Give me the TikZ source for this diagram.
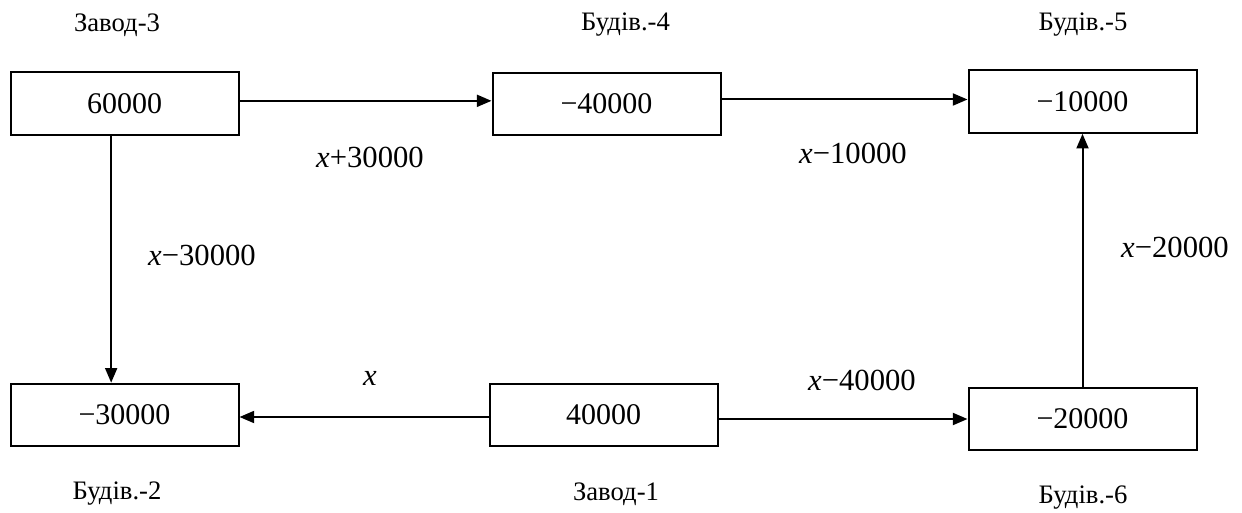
\documentclass[tikz,border=0pt]{standalone}
\usepackage{fontspec}
\setmainfont{Liberation Serif}
\usetikzlibrary{arrows.meta}
\begin{document}
\begin{tikzpicture}[x=0.75pt,y=-0.75pt,
 box/.style={draw, line width=1.5pt, minimum width=171pt, minimum height=47pt, inner sep=0pt, font=\fontsize{22.5}{26}\selectfont},
 lbl/.style={font=\fontsize{20}{24}\selectfont},
 elbl/.style={font=\fontsize{23}{26}\selectfont},
 arr/.style={line width=1.5pt, -{Triangle[length=11pt,width=9pt]}}]
\useasboundingbox (0,0) rectangle (1242,513);
% boxes
\node[box] (b3) at (124.5,103.5) {60000};
\node[box] (b4) at (606.5,104) {−40000};
\node[box] (b5) at (1082.5,101.5) {−10000};
\node[box] (b2) at (124.5,415) {−30000};
\node[box] (b1) at (603.5,415) {40000};
\node[box] (b6) at (1082.5,419) {−20000};
% names
\node[lbl] (n3) at (117,25) {Завод-3};
\node[lbl] (n4) at (625.5,25) {Будів.-4};
\node[lbl] (n5) at (1083,25) {Будів.-5};
\node[lbl] (n2) at (117,494) {Будів.-2};
\node[lbl] (n1) at (616,494) {Завод-1};
\node[lbl] (n6) at (1083,498) {Будів.-6};
% connectors
\draw[arr] ([yshift=2pt]b3.east) -- ([yshift=2pt]b3.east -| b4.west);
\draw[arr] ([yshift=1.5pt]b5.west -| b4.east) -- ([yshift=1.5pt]b5.west);
\draw[arr] ([xshift=-10pt]b3.south) -- ([xshift=-10pt]b3.south |- b2.north);
\draw[arr] ([yshift=-1.5pt]b1.west) -- ([yshift=-1.5pt]b1.west -| b2.east);
\draw[arr] (b6.west -| b1.east) -- (b6.west);
\draw[arr] (b6.north) -- (b6.north |- b5.south);
% flow labels
\node[elbl] (e34) at (370,157) {\textit{x}+30000};
\node[elbl] (e45) at (853,153) {\textit{x}−10000};
\node[elbl] (e32) at (202,255) {\textit{x}−30000};
\node[elbl] (e65) at (1175,247) {\textit{x}−20000};
\node[elbl] (e12) at (370,378) {\textit{x}};
\node[elbl] (e16) at (862,380) {\textit{x}−40000};
\end{tikzpicture}
\end{document}
